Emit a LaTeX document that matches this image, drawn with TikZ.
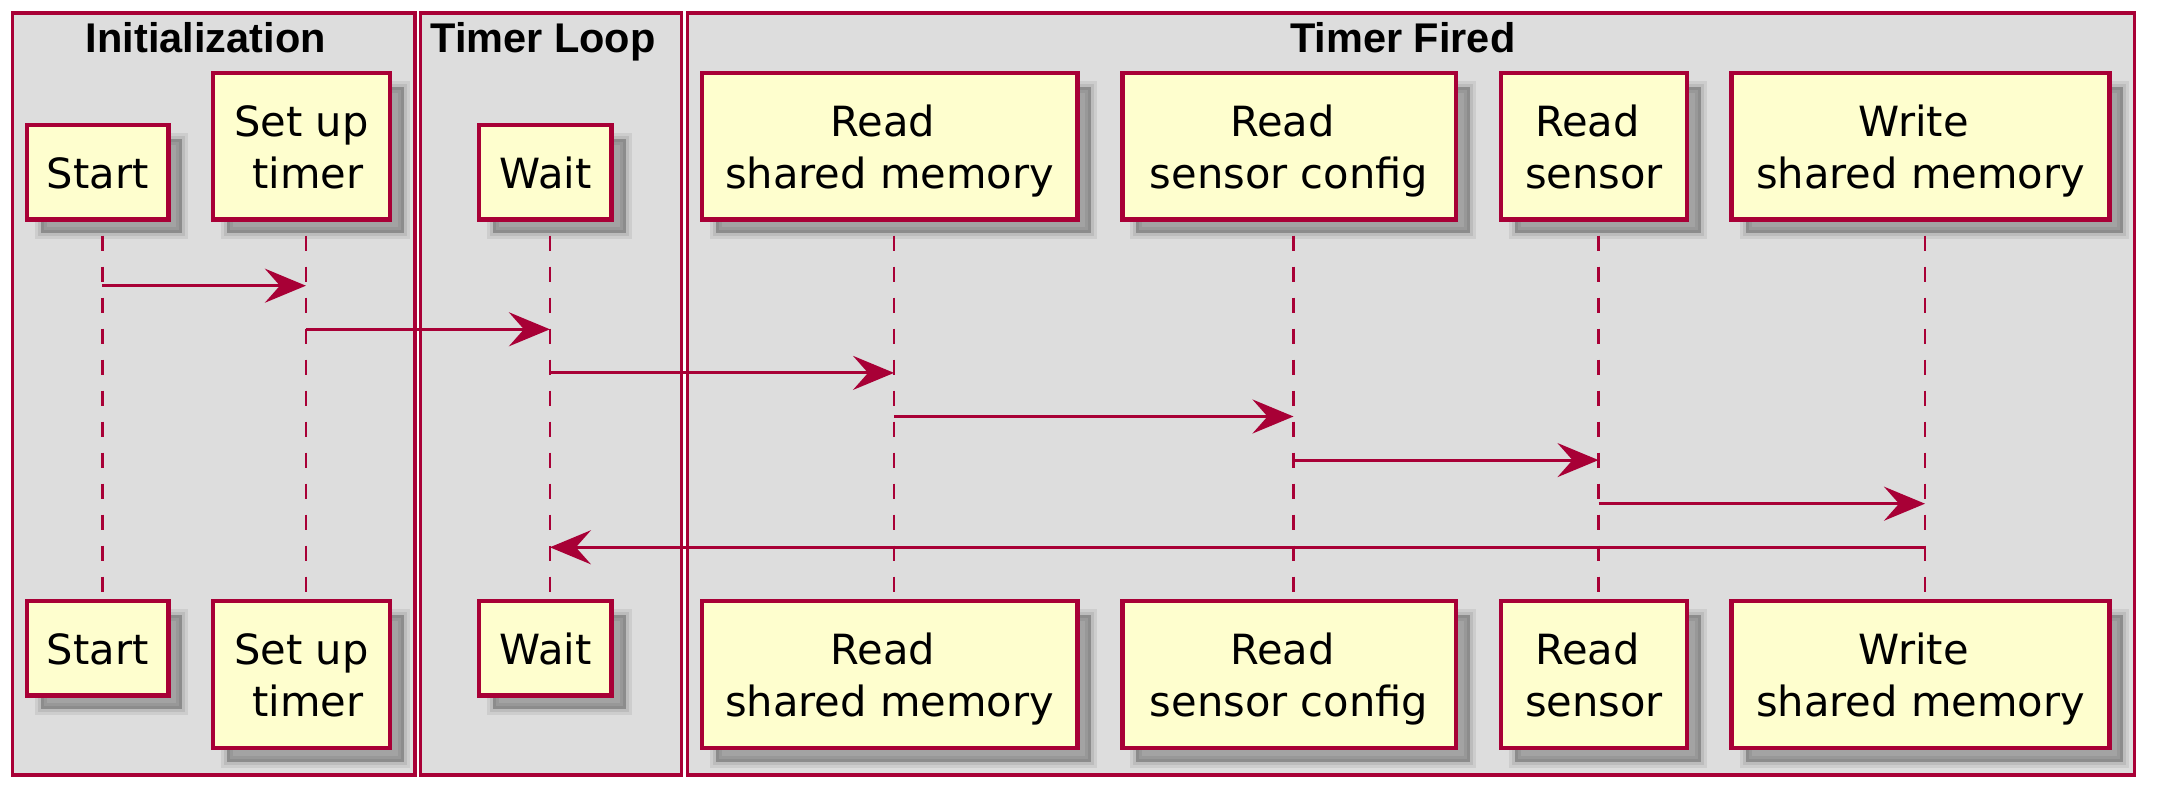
\documentclass[tikz,border=0pt]{standalone}
\usepackage{fontspec}
\setmainfont{DejaVu Sans}
\newfontfamily\grpfont{Liberation Sans}
\usetikzlibrary{arrows.meta,shadows}

\definecolor{umlred}{HTML}{A80036}
\definecolor{umlbox}{HTML}{FEFECE}
\definecolor{umlgrp}{HTML}{DDDDDD}

\newcommand\boxstrut{\rule[-4.7pt]{0pt}{25.7pt}}
\newcommand\partlines[2]{\boxstrut#1\\\boxstrut#2}

\tikzset{
  grp/.style={draw=umlred, fill=umlgrp, line width=1.65pt},
  grptitle/.style={anchor=base, inner sep=0pt, font=\grpfont\bfseries\fontsize{20.75pt}{24pt}\selectfont},
  softshadow/.style={
    general shadow={shadow xshift=7pt, shadow yshift=-7pt, fill=black, draw=black, line width=6pt, opacity=.07},
    general shadow={shadow xshift=7pt, shadow yshift=-7pt, fill=black, draw=black, line width=3pt, opacity=.08},
    general shadow={shadow xshift=7pt, shadow yshift=-7pt, fill=black, opacity=.13}},
  part/.style={draw=umlred, fill=umlbox, line width=2.25pt, inner sep=0pt, outer sep=0pt,
    align=center, font=\fontsize{20.8pt}{25.8pt}\selectfont, softshadow},
  shortbox/.style={minimum height=47.1pt},
  tallbox/.style={minimum height=73.25pt},
  lifeline/.style={umlred, line width=1.4pt, dash pattern=on 7.5pt off 8pt},
  msg/.style={umlred, line width=1.5pt, -{Stealth[length=20.5pt, width=17pt, inset=7.5pt]}}
}

\begin{document}
\begin{tikzpicture}[x=0.5pt,y=-0.5pt]
\useasboundingbox (0,0) rectangle (2165,807);

% groups
\draw[grp] (12.65,13) rectangle (415,775);
\draw[grp] (420.5,13) rectangle (681.7,775);
\draw[grp] (687.3,13) rectangle (2134.3,775);
\node[grptitle] (tInit) at (205.8,52.3) {Initialization};
\node[grptitle] (tLoop) at (543,52.3) {Timer Loop};
\node[grptitle] (tFired) at (1402.8,52.3) {Timer Fired};

% participants, top row
\node[part, shortbox, minimum width=70.85pt, anchor=south] (start) at (97.6,219.45) {\boxstrut Start};
\node[part, tallbox, minimum width=88.65pt, anchor=south] (setup) at (301.4,219.45) {\partlines{Set up}{\hphantom{\ }timer}};
\node[part, shortbox, minimum width=66.25pt, anchor=south] (wait) at (545.4,219.45) {\boxstrut Wait};
\node[part, tallbox, minimum width=187.8pt, anchor=south] (rdmem) at (889.55,219.45) {\partlines{Read\hphantom{\ }}{shared memory}};
\node[part, tallbox, minimum width=166.75pt, anchor=south] (rdcfg) at (1289,219.45) {\partlines{Read\hphantom{\ }}{sensor config}};
\node[part, tallbox, minimum width=93.05pt, anchor=south] (rdsen) at (1594,219.45) {\partlines{Read\hphantom{\ }}{sensor}};
\node[part, tallbox, minimum width=188.95pt, anchor=south] (wrmem) at (1920.5,219.45) {\partlines{Write\hphantom{\ }}{shared memory}};

% participants, bottom row
\node[part, shortbox, minimum width=70.85pt, anchor=north] (startB) at (97.6,601.25) {\boxstrut Start};
\node[part, tallbox, minimum width=88.65pt, anchor=north] (setupB) at (301.4,601.25) {\partlines{Set up}{\hphantom{\ }timer}};
\node[part, shortbox, minimum width=66.25pt, anchor=north] (waitB) at (545.4,601.25) {\boxstrut Wait};
\node[part, tallbox, minimum width=187.8pt, anchor=north] (rdmemB) at (889.55,601.25) {\partlines{Read\hphantom{\ }}{shared memory}};
\node[part, tallbox, minimum width=166.75pt, anchor=north] (rdcfgB) at (1289,601.25) {\partlines{Read\hphantom{\ }}{sensor config}};
\node[part, tallbox, minimum width=93.05pt, anchor=north] (rdsenB) at (1594,601.25) {\partlines{Read\hphantom{\ }}{sensor}};
\node[part, tallbox, minimum width=188.95pt, anchor=north] (wrmemB) at (1920.5,601.25) {\partlines{Write\hphantom{\ }}{shared memory}};

% lifelines
\coordinate (lStart) at ([xshift=2.25pt]start.south);
\coordinate (lSetup) at ([xshift=2.25pt]setup.south);
\coordinate (lWait) at ([xshift=2.25pt]wait.south);
\coordinate (lRdMem) at ([xshift=2.25pt]rdmem.south);
\coordinate (lRdCfg) at ([xshift=2.25pt]rdcfg.south);
\coordinate (lRdSen) at ([xshift=2.25pt]rdsen.south);
\coordinate (lWrMem) at ([xshift=2.25pt]wrmem.south);
\draw[lifeline] ([yshift=-8.125pt]lStart) -- ([xshift=2.25pt,yshift=3.625pt]startB.north);
\draw[lifeline] ([yshift=-8.125pt]lSetup) -- ([xshift=2.25pt,yshift=3.625pt]setupB.north);
\draw[lifeline] ([yshift=-8.125pt]lWait) -- ([xshift=2.25pt,yshift=3.625pt]waitB.north);
\draw[lifeline] ([yshift=-8.125pt]lRdMem) -- ([xshift=2.25pt,yshift=3.625pt]rdmemB.north);
\draw[lifeline] ([yshift=-8.125pt]lRdCfg) -- ([xshift=2.25pt,yshift=3.625pt]rdcfgB.north);
\draw[lifeline] ([yshift=-8.125pt]lRdSen) -- ([xshift=2.25pt,yshift=3.625pt]rdsenB.north);
\draw[lifeline] ([yshift=-8.125pt]lWrMem) -- ([xshift=2.25pt,yshift=3.625pt]wrmemB.north);

% messages
\draw[msg] (lStart |- 0,285.7) -- (lSetup |- 0,285.7);
\draw[msg] (lSetup |- 0,329.3) -- (lWait |- 0,329.3);
\draw[msg] (lWait |- 0,372.9) -- (lRdMem |- 0,372.9);
\draw[msg] (lRdMem |- 0,416.5) -- (lRdCfg |- 0,416.5);
\draw[msg] (lRdCfg |- 0,460.1) -- (lRdSen |- 0,460.1);
\draw[msg] (lRdSen |- 0,503.7) -- (lWrMem |- 0,503.7);
\draw[msg] (lWrMem |- 0,547.3) -- (lWait |- 0,547.3);
\end{tikzpicture}
\end{document}
